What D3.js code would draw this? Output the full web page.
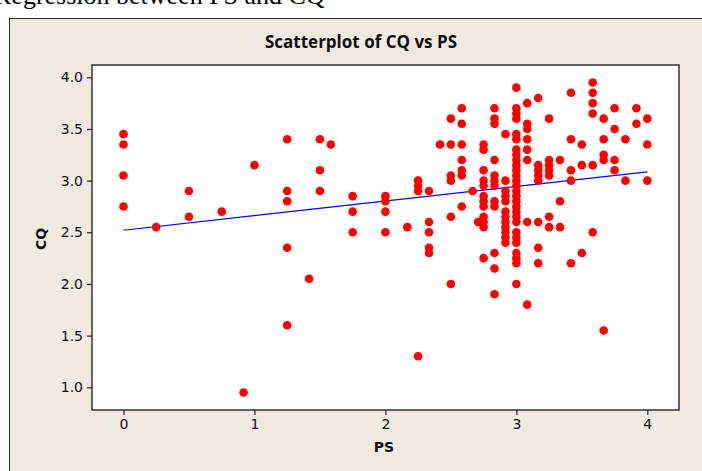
<!DOCTYPE html>
<html>
<head>
<meta charset="utf-8">
<script src="https://cdn.jsdelivr.net/npm/d3@7"></script>
<style>
  html, body { margin: 0; padding: 0; background: #ffffff; }
  svg { display: block; }
</style>
</head>
<body>
<div id="chart"></div>
<script>
// ---------- data ----------
const captionText = "Regression between PS and CQ";
const chartTitle = "Scatterplot of CQ vs PS";
const xLabel = "PS";
const yLabel = "CQ";
const xTicks = [0, 1, 2, 3, 4];
const yTicks = [1.0, 1.5, 2.0, 2.5, 3.0, 3.5, 4.0];

const psValues = [
  0, 0, 0, 0, 0.25, 0.5, 0.5, 0.75, 0.917, 1.0,
  1.25, 1.25, 1.25, 1.25, 1.25, 1.417, 1.5, 1.5, 1.5, 1.583,
  1.75, 1.75, 1.75, 2.0, 2.0, 2.0, 2.0, 2.167, 2.25, 2.25, 2.25, 2.25,
  2.333, 2.333, 2.333, 2.333, 2.333, 2.417,
  2.5, 2.5, 2.5, 2.5, 2.5, 2.5,
  2.583, 2.583, 2.583, 2.583, 2.583, 2.583, 2.583,
  2.667, 2.708,
  2.75, 2.75, 2.75, 2.75, 2.75, 2.75, 2.75, 2.75, 2.75, 2.75, 2.75, 2.75,
  2.833, 2.833, 2.833, 2.833, 2.833, 2.833, 2.833, 2.833, 2.833, 2.833, 2.833, 2.833,
  2.917, 2.917, 2.917, 2.917, 2.917, 2.917, 2.917, 2.917, 2.917, 2.917, 2.917, 2.917,
  3, 3, 3, 3, 3, 3, 3, 3, 3, 3, 3, 3, 3, 3, 3, 3, 3, 3, 3, 3, 3, 3, 3, 3, 3, 3, 3, 3,
  3.083, 3.083, 3.083, 3.083, 3.083, 3.083, 3.083, 3.083,
  3.167, 3.167, 3.167, 3.167, 3.167, 3.167, 3.167, 3.167,
  3.25, 3.25, 3.25, 3.25, 3.25, 3.25, 3.25,
  3.333, 3.333, 3.333,
  3.417, 3.417, 3.417, 3.417, 3.417,
  3.5, 3.5, 3.5,
  3.583, 3.583, 3.583, 3.583, 3.583, 3.583,
  3.667, 3.667, 3.667, 3.667, 3.667,
  3.75, 3.75, 3.75, 3.75,
  3.833, 3.833,
  3.917, 3.917,
  4, 4, 4
];
const cqValues = [
  3.45, 3.35, 3.05, 2.75, 2.55, 2.90, 2.65, 2.70, 0.95, 3.15,
  3.40, 2.90, 2.80, 2.35, 1.60, 2.05, 3.40, 3.10, 2.90, 3.35,
  2.85, 2.70, 2.50, 2.85, 2.80, 2.70, 2.50, 2.55, 3.00, 2.95, 2.90, 1.30,
  2.90, 2.60, 2.50, 2.35, 2.30, 3.35,
  3.60, 3.35, 3.05, 3.00, 2.65, 2.00,
  3.70, 3.55, 3.35, 3.20, 3.10, 3.05, 2.75,
  2.90, 2.60,
  3.35, 3.30, 3.10, 3.00, 2.95, 2.85, 2.80, 2.75, 2.65, 2.60, 2.55, 2.25,
  3.70, 3.60, 3.55, 3.20, 3.05, 3.00, 2.95, 2.80, 2.75, 2.30, 2.15, 1.90,
  3.45, 3.00, 2.90, 2.85, 2.80, 2.70, 2.65, 2.60, 2.55, 2.50, 2.45, 2.40,
  3.90, 3.70, 3.65, 3.60, 3.45, 3.40, 3.30, 3.25, 3.20, 3.15, 3.10, 3.05, 3.00, 2.95,
  2.90, 2.85, 2.80, 2.75, 2.70, 2.65, 2.60, 2.50, 2.45, 2.40, 2.30, 2.25, 2.20, 2.00,
  3.75, 3.55, 3.50, 3.40, 3.30, 3.20, 2.60, 1.80,
  3.80, 3.15, 3.10, 3.05, 3.00, 2.60, 2.35, 2.20,
  3.60, 3.20, 3.15, 3.10, 3.05, 2.65, 2.55,
  3.20, 2.80, 2.55,
  3.85, 3.40, 3.10, 3.00, 2.20,
  3.35, 3.15, 2.30,
  3.95, 3.85, 3.75, 3.65, 3.15, 2.50,
  3.60, 3.40, 3.25, 3.20, 1.55,
  3.70, 3.50, 3.20, 3.10,
  3.40, 3.00,
  3.70, 3.55,
  3.60, 3.35, 3.00
];

// fitted regression line (CQ = a + b*PS)
const fitPS = [0, 4];
const fitCQ = [2.52, 3.085];

// ---------- drawing ----------
const W = 702, H = 471;
const svg = d3.select("#chart").append("svg")
  .attr("width", W).attr("height", H);

// caption text above the graph window (cut by the page top)
svg.append("text")
  .attr("x", -6).attr("y", 4)
  .attr("font-family", "Liberation Serif, DejaVu Serif, serif")
  .attr("font-size", 26)
  .attr("fill", "#000")
  .text(captionText);

// graph window background
svg.append("rect")
  .attr("x", 9.5).attr("y", 18.5)
  .attr("width", 800).attr("height", 800)
  .attr("fill", "#EEEAE0")
  .attr("stroke", "#2a2a2a").attr("stroke-width", 1);

// plot area
const box = { left: 92, top: 65, right: 679, bottom: 410 };

const x = d3.scaleLinear().domain([0, 4]).range([123.5, 647.3]);
const y = d3.scaleLinear().domain([1, 4]).range([387.3, 77.3]);

svg.append("rect")
  .attr("x", box.left).attr("y", box.top)
  .attr("width", box.right - box.left).attr("height", box.bottom - box.top)
  .attr("fill", "#ffffff")
  .attr("stroke", "#333").attr("stroke-width", 1.5);

// axes
const xAxis = d3.axisBottom(x).tickValues(xTicks).tickSize(5).tickPadding(4)
  .tickFormat(d3.format("d"));
const gx = svg.append("g").attr("transform", `translate(0,${box.bottom})`).call(xAxis);
gx.select(".domain").remove();

const yAxis = d3.axisLeft(y).tickValues(yTicks).tickSize(5).tickPadding(4)
  .tickFormat(d3.format(".1f"));
const gy = svg.append("g").attr("transform", `translate(${box.left},0)`).call(yAxis);
gy.select(".domain").remove();

svg.selectAll(".tick line").attr("stroke", "#222").attr("stroke-width", 1.2);
svg.selectAll(".tick text")
  .attr("font-family", "DejaVu Sans, sans-serif")
  .attr("font-size", 14)
  .attr("fill", "#111");

// regression line
const pts = fitPS.map((p, i) => [p, fitCQ[i]]);
svg.append("path")
  .attr("d", d3.line().x(d => x(d[0])).y(d => y(d[1]))(pts))
  .attr("stroke", "#0000FF").attr("stroke-width", 1.2).attr("fill", "none");

// points
const data = psValues.map((p, i) => ({ ps: p, cq: cqValues[i] }));
svg.append("g").selectAll("circle").data(data).join("circle")
  .attr("cx", d => x(d.ps))
  .attr("cy", d => y(d.cq))
  .attr("r", 4.3)
  .attr("fill", "#FF0000");

// title
svg.append("text")
  .attr("x", 361).attr("y", 48)
  .attr("text-anchor", "middle")
  .attr("font-family", "Open Sans, sans-serif")
  .attr("font-weight", "bold")
  .attr("font-size", 17)
  .attr("fill", "#111")
  .text(chartTitle);

// axis labels
svg.append("text")
  .attr("x", 384).attr("y", 452)
  .attr("text-anchor", "middle")
  .attr("font-family", "DejaVu Sans, sans-serif")
  .attr("font-weight", "bold")
  .attr("font-size", 14)
  .attr("fill", "#111")
  .text(xLabel);

svg.append("text")
  .attr("transform", "translate(46,239) rotate(-90)")
  .attr("text-anchor", "middle")
  .attr("font-family", "DejaVu Sans, sans-serif")
  .attr("font-weight", "bold")
  .attr("font-size", 14)
  .attr("fill", "#111")
  .text(yLabel);
</script>
</body>
</html>
